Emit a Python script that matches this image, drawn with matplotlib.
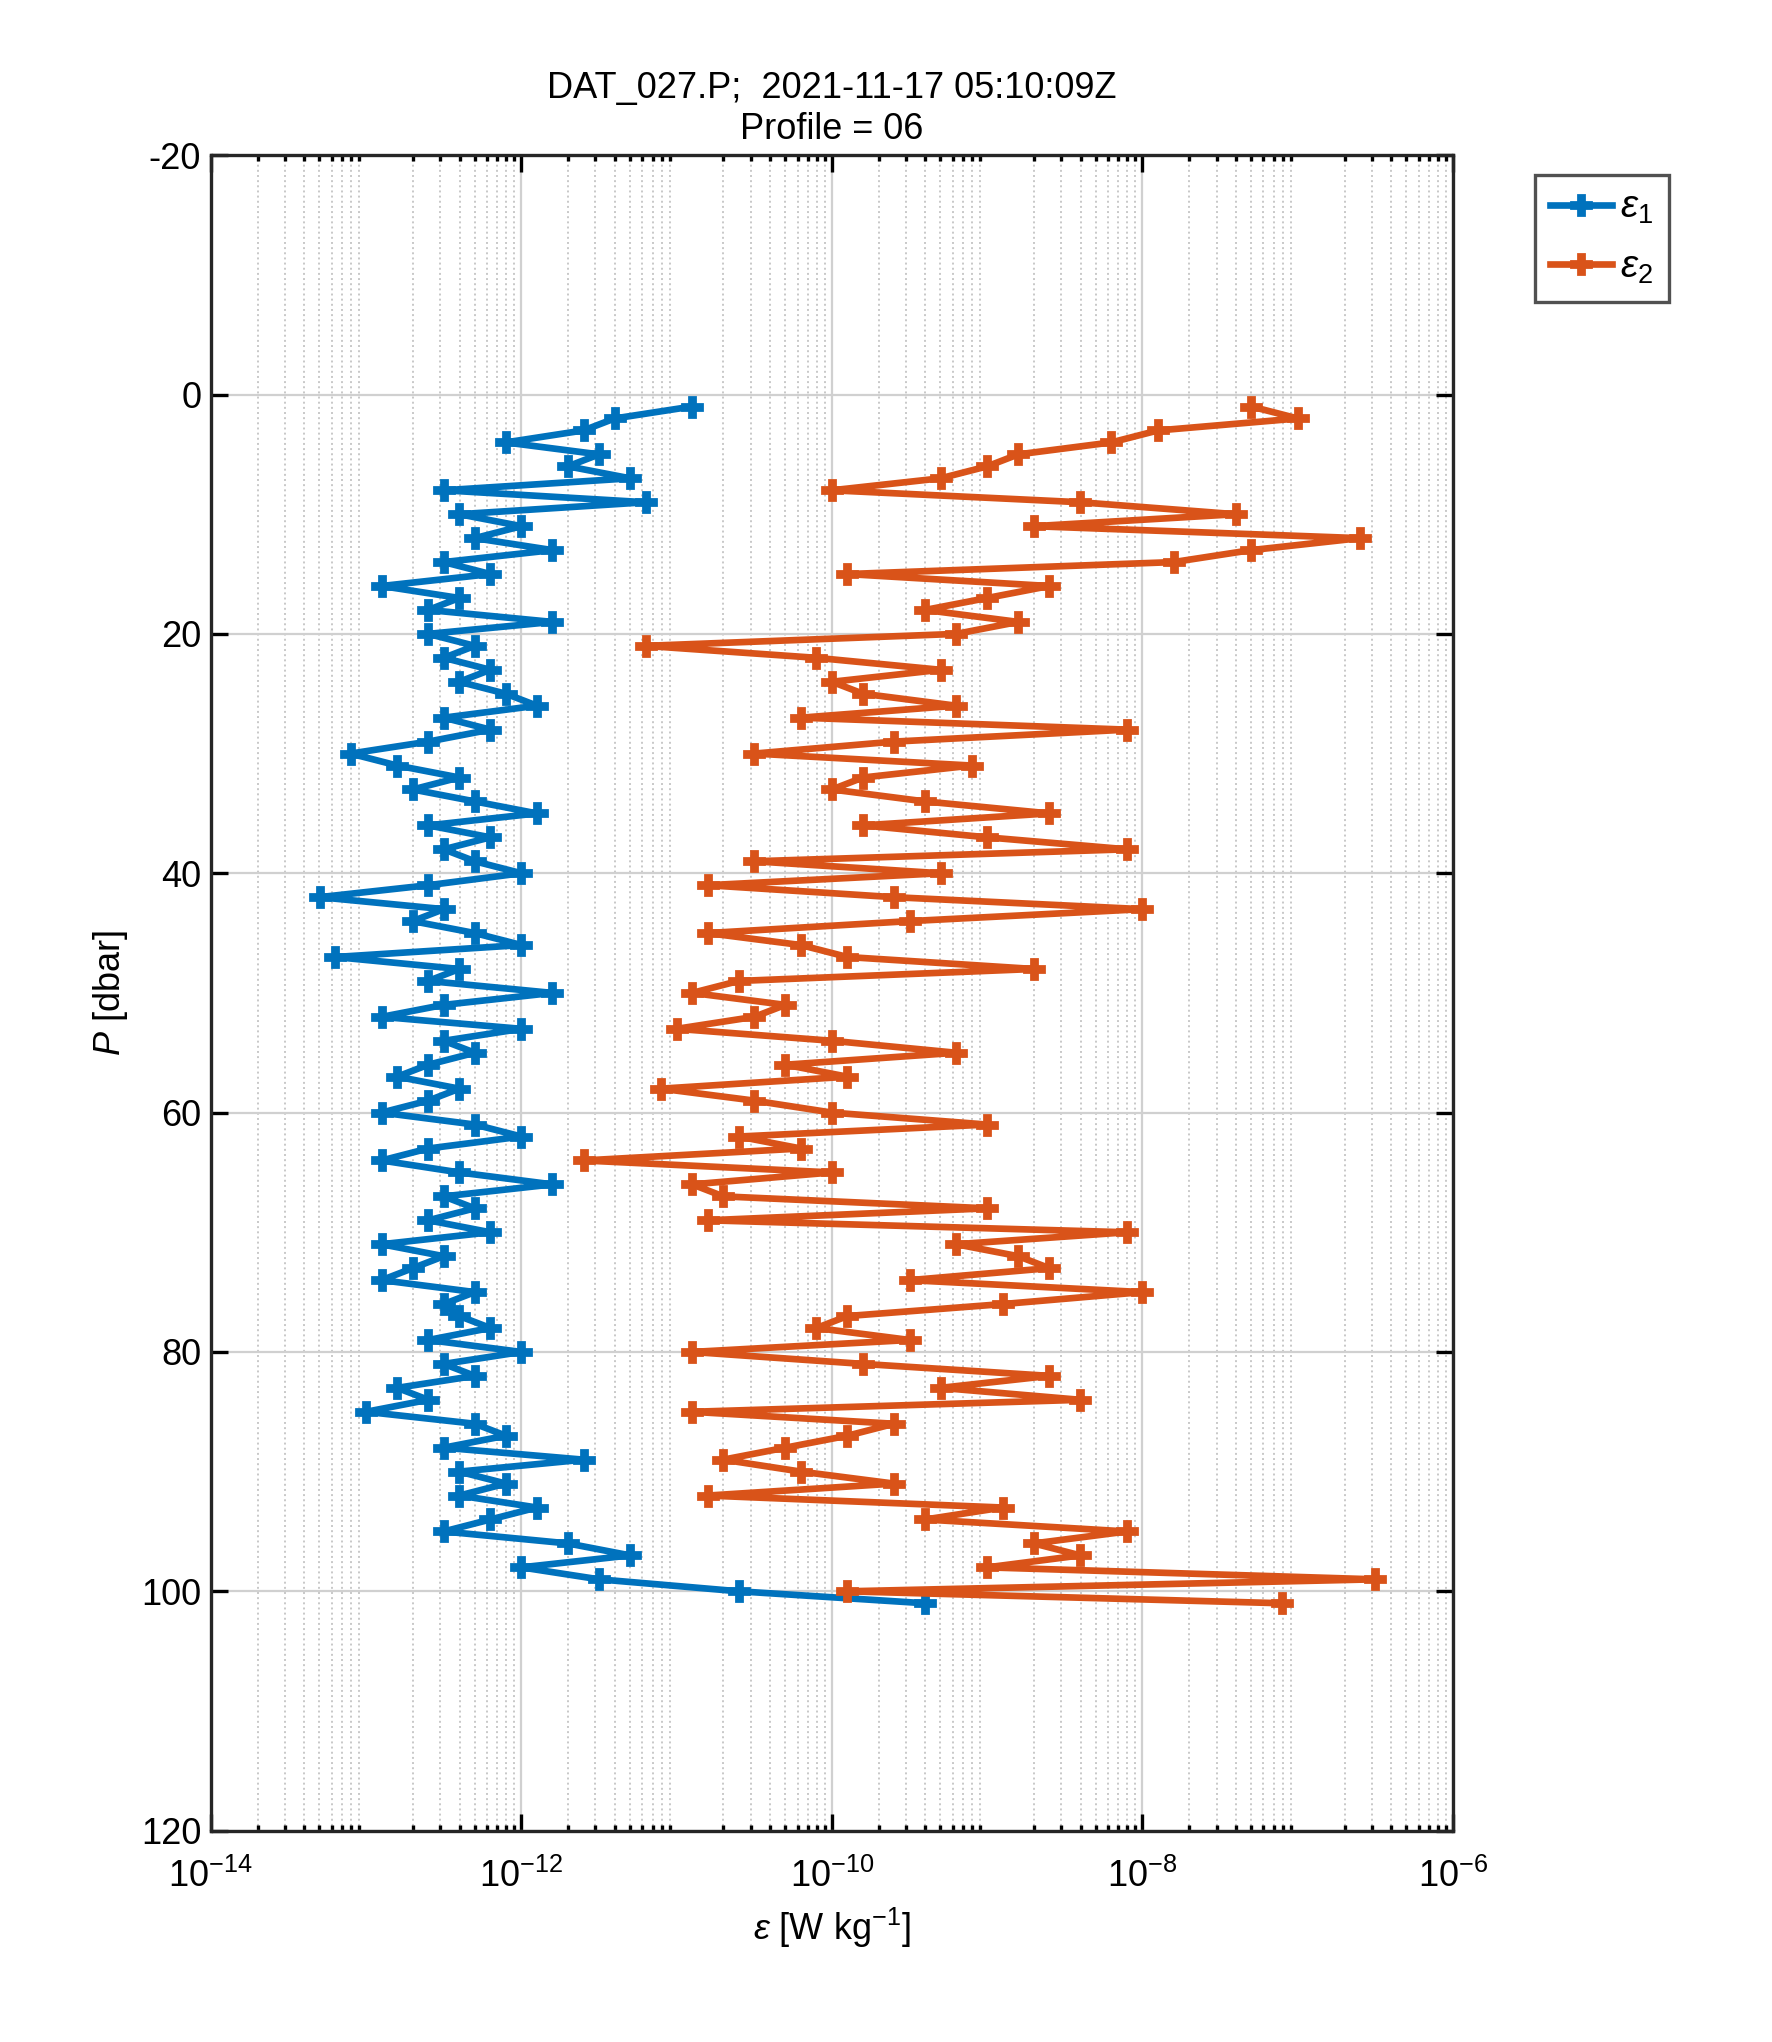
import numpy as np
import matplotlib.pyplot as plt

plt.rcParams['font.family'] = ['Liberation Sans', 'DejaVu Sans']
plt.rcParams['mathtext.fontset'] = 'custom'
plt.rcParams['mathtext.rm'] = 'Liberation Sans'
plt.rcParams['mathtext.it'] = 'Liberation Sans:italic'
plt.rcParams['axes.unicode_minus'] = False

# presión [dbar]
presion = np.arange(1, 102, 1.0)

# log10(epsilon)
log_eps1 = [-10.9, -11.4, -11.6, -12.1, -11.5, -11.7, -11.3, -12.5, -11.2, -12.4,
            -12.0, -12.3, -11.8, -12.5, -12.2, -12.9, -12.4, -12.6, -11.8, -12.6,
            -12.3, -12.5, -12.2, -12.4, -12.1, -11.9, -12.5, -12.2, -12.6, -13.1,
            -12.8, -12.4, -12.7, -12.3, -11.9, -12.6, -12.2, -12.5, -12.3, -12.0,
            -12.6, -13.3, -12.5, -12.7, -12.3, -12.0, -13.2, -12.4, -12.6, -11.8,
            -12.5, -12.9, -12.0, -12.5, -12.3, -12.6, -12.8, -12.4, -12.6, -12.9,
            -12.3, -12.0, -12.6, -12.9, -12.4, -11.8, -12.5, -12.3, -12.6, -12.2,
            -12.9, -12.5, -12.7, -12.9, -12.3, -12.5, -12.4, -12.2, -12.6, -12.0,
            -12.5, -12.3, -12.8, -12.6, -13.0, -12.3, -12.1, -12.5, -11.6, -12.4,
            -12.1, -12.4, -11.9, -12.2, -12.5, -11.7, -11.3, -12.0, -11.5, -10.6,
            -9.4]
log_eps2 = [-7.3, -7.0, -7.9, -8.2, -8.8, -9.0, -9.3, -10.0, -8.4, -7.4,
            -8.7, -6.6, -7.3, -7.8, -9.9, -8.6, -9.0, -9.4, -8.8, -9.2,
            -11.2, -10.1, -9.3, -10.0, -9.8, -9.2, -10.2, -8.1, -9.6, -10.5,
            -9.1, -9.8, -10.0, -9.4, -8.6, -9.8, -9.0, -8.1, -10.5, -9.3,
            -10.8, -9.6, -8.0, -9.5, -10.8, -10.2, -9.9, -8.7, -10.6, -10.9,
            -10.3, -10.5, -11.0, -10.0, -9.2, -10.3, -9.9, -11.1, -10.5, -10.0,
            -9.0, -10.6, -10.2, -11.6, -10.0, -10.9, -10.7, -9.0, -10.8, -8.1,
            -9.2, -8.8, -8.6, -9.5, -8.0, -8.9, -9.9, -10.1, -9.5, -10.9,
            -9.8, -8.6, -9.3, -8.4, -10.9, -9.6, -9.9, -10.3, -10.7, -10.2,
            -9.6, -10.8, -8.9, -9.4, -8.1, -8.7, -8.4, -9.0, -6.5, -9.9,
            -7.1]

fig = plt.figure(figsize=(8.86, 10.21), dpi=200)
ax = fig.add_axes([0.119, 0.1035, 0.701, 0.8205])

ax.plot(10 ** np.array(log_eps1), presion, '-P', color='#0072BD', lw=2.4, ms=7,
        label=r'$\epsilon_1$')
ax.plot(10 ** np.array(log_eps2), presion, '-P', color='#D95319', lw=2.4, ms=7,
        label=r'$\epsilon_2$')

ax.set_xscale('log')
ax.set_xlim(1e-14, 1e-6)
ax.set_ylim(120, -20)
ax.set_yticks(np.arange(-20, 121, 20))
ax.set_xticks([1e-14, 1e-12, 1e-10, 1e-8, 1e-6])
ax.grid(True, which='major', color='#d0d0d0', lw=0.8)
ax.grid(True, which='minor', axis='x', color='#c8c8c8', ls=':', lw=0.7)
ax.tick_params(which='both', direction='in', top=True, right=True, labelsize=13,
               width=1.2)
ax.tick_params(which='major', length=6)
ax.tick_params(axis='x', which='major', pad=10)
for s in ax.spines.values():
    s.set_linewidth(1.2)
    s.set_color('#262626')

ax.set_xlabel(r'$\epsilon$ [W kg$^{-1}$]', fontsize=13)
ax.set_ylabel(r'$P$ [dbar]', fontsize=13)
ax.set_title('DAT_027.P;  2021-11-17 05:10:09Z\nProfile = 06', fontsize=13)

leg = ax.legend(loc='upper left', bbox_to_anchor=(1.05, 1.0), fontsize=14,
                fancybox=False, edgecolor='#262626', handlelength=1.6,
                borderpad=0.4, labelspacing=0.6, handletextpad=0.2)
leg.get_frame().set_linewidth(1.2)

fig.savefig('out.png', dpi=200)
